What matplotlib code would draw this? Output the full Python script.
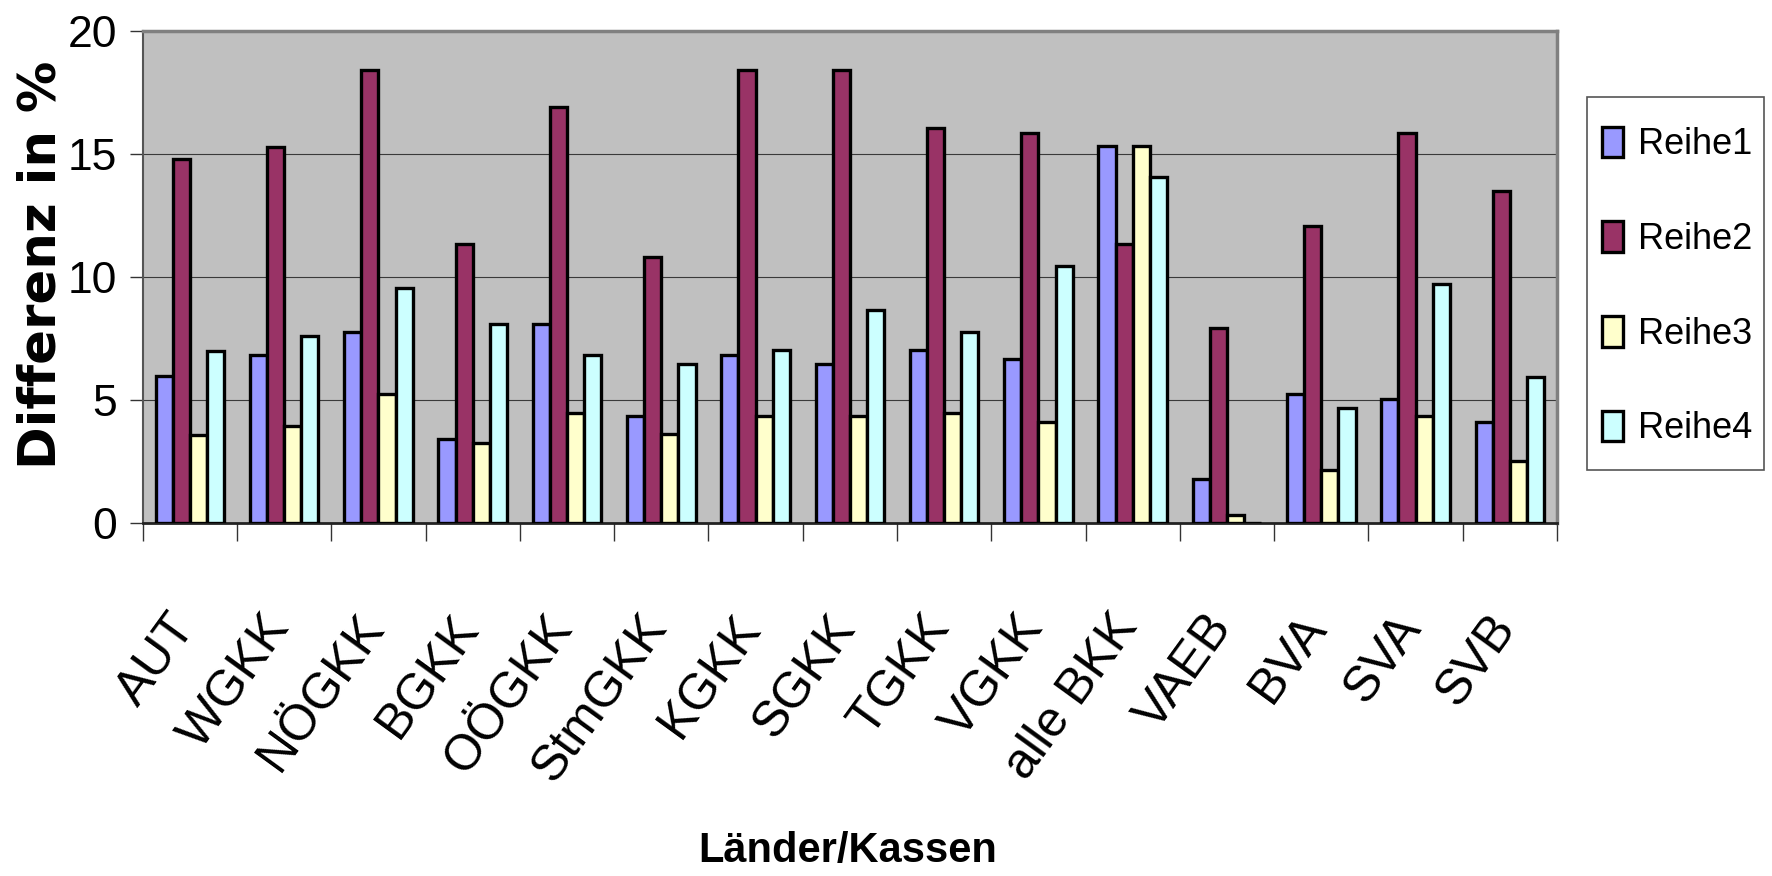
import numpy as np
import matplotlib
matplotlib.use("Agg")
import matplotlib.pyplot as plt
import matplotlib.transforms as mtransforms
from matplotlib.patches import Rectangle

categories = ["AUT", "WGKK", "NÖGKK", "BGKK", "OÖGKK", "StmGKK", "KGKK", "SGKK",
              "TGKK", "VGKK", "alle BKK", "VAEB", "BVA", "SVA", "SVB"]
reihe1 = [6.0, 6.85, 7.76, 3.44, 8.1, 4.34, 6.85, 6.48, 7.03, 6.67, 15.33, 1.8, 5.24, 5.06, 4.13]
reihe2 = [14.8, 15.3, 18.4, 11.34, 16.9, 10.83, 18.4, 18.4, 16.05, 15.87, 11.34, 7.93, 12.07, 15.87, 13.52]
reihe3 = [3.6, 3.97, 5.24, 3.25, 4.48, 3.61, 4.34, 4.34, 4.48, 4.12, 15.33, 0.35, 2.16, 4.34, 2.52]
reihe4 = [7.0, 7.6, 9.56, 8.1, 6.85, 6.48, 7.03, 8.66, 7.76, 10.47, 14.07, 0.0, 4.7, 9.72, 5.95]
series_names = ["Reihe1", "Reihe2", "Reihe3", "Reihe4"]
colors = ["#9999FF", "#993366", "#FFFFCC", "#CCFFFF"]
yticks = [0, 5, 10, 15, 20]

FONT = "Liberation Sans"

W, H = 1772, 876
fig = plt.figure(figsize=(W / 100, H / 100), dpi=100)
fig.patch.set_facecolor("white")
ax = fig.add_axes([142.7 / W, 1 - 523.3 / H, (1557 - 142.7) / W, (523.3 - 31) / H])
ax.set_facecolor("#C0C0C0")

n = len(categories)
x = np.arange(n)
w = 0.1818
for j, (vals, c, name) in enumerate(zip([reihe1, reihe2, reihe3, reihe4], colors, series_names)):
    ax.bar(x + (j - 1.5) * w, vals, width=w, color=c, edgecolor="black",
           linewidth=2.4, label=name, zorder=3)

ax.set_xlim(-0.5, n - 0.5)
ax.set_ylim(0, 20)
ax.set_yticks(yticks)
ax.set_yticklabels([str(t) for t in yticks], fontfamily=FONT, fontsize=32)
ax.yaxis.grid(True, color="#3a3a3a", linewidth=0.8, zorder=1)
ax.set_axisbelow(True)
ax.tick_params(axis="y", direction="out", length=9.5, width=1.0, color="#333333", pad=9)

# category boundary ticks
ax.set_xticks(np.arange(n + 1) - 0.5)
ax.set_xticklabels([])
ax.tick_params(axis="x", direction="out", length=13, width=1.0, color="#333333")

for sp in ["top", "right"]:
    ax.spines[sp].set_color("#808080")
    ax.spines[sp].set_linewidth(2.5)
ax.spines["left"].set_color("#555555")
ax.spines["left"].set_linewidth(1.5)
ax.spines["bottom"].set_color("#222222")
ax.spines["bottom"].set_linewidth(2.0)

# rotated category labels
trans = mtransforms.blended_transform_factory(ax.transData, ax.transAxes)
for i, lab in enumerate(categories):
    ax.text(i - 0.24, -0.168, lab, transform=trans, rotation=54, rotation_mode="anchor",
            ha="right", va="top", fontfamily=FONT, fontsize=36)

fig.text(848 / W, 1 - 851 / H, "Länder/Kassen", ha="center", va="center",
         fontfamily=FONT, fontweight="bold", fontsize=30)
fig.text(42 / W, 1 - 265 / H, "Differenz in %", ha="center", va="center", rotation=90,
         fontfamily="DejaVu Sans", fontweight="bold", fontsize=37)

# legend frame (drawn separately so its padding can differ per side)
frame = Rectangle((1586.7 / W, 1 - 470 / H), (1764 - 1586.7) / W, (470 - 97) / H,
                  transform=fig.transFigure, facecolor="none", edgecolor="#555555",
                  linewidth=1.2, zorder=4)
fig.patches.append(frame)

leg_fs = 26
em = leg_fs * 100 / 72
leg = ax.legend(loc="center", bbox_to_anchor=(1677 / W, 1 - 286.5 / H),
                bbox_transform=fig.transFigure, frameon=False,
                prop={"family": FONT, "size": leg_fs},
                handlelength=21.6 / em, handleheight=33.7 / em,
                handletextpad=0.4, labelspacing=1.63, borderpad=0.0, borderaxespad=0)
for p in leg.get_patches():
    p.set_linewidth(2.4)

fig.savefig("out.png", dpi=100, facecolor="white")
